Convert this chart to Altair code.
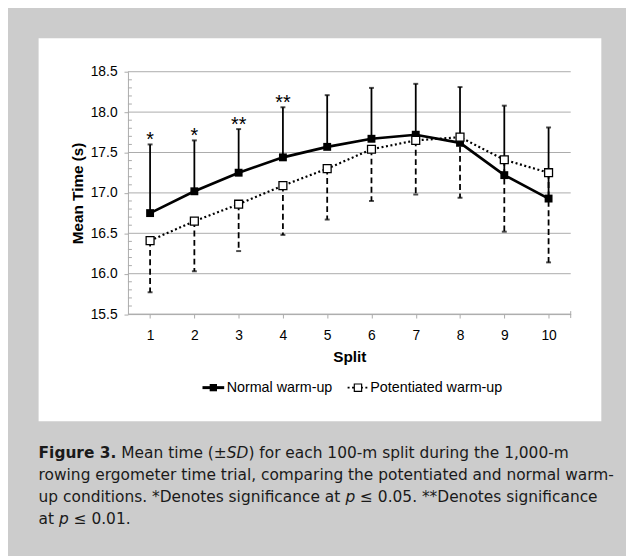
import altair as alt
import pandas as pd

# ---------------- data ----------------
splits = [1, 2, 3, 4, 5, 6, 7, 8, 9, 10]
normal_mean = [16.75, 17.02, 17.25, 17.44, 17.57, 17.67, 17.72, 17.62, 17.22, 16.93]
normal_sd = [0.85, 0.63, 0.54, 0.62, 0.64, 0.63, 0.63, 0.69, 0.86, 0.88]
pot_mean = [16.41, 16.65, 16.86, 17.09, 17.30, 17.54, 17.65, 17.69, 17.41, 17.25]
pot_sd = [0.64, 0.62, 0.58, 0.61, 0.63, 0.64, 0.67, 0.75, 0.89, 1.11]
sig_marks = ["*", "*", "**", "**", "", "", "", "", "", ""]

y_major = [15.5, 16.0, 16.5, 17.0, 17.5, 18.0, 18.5]
y_minor = [15.6, 15.7, 15.8, 15.9, 16.1, 16.2, 16.3, 16.4, 16.6, 16.7, 16.8, 16.9,
           17.1, 17.2, 17.3, 17.4, 17.6, 17.7, 17.8, 17.9, 18.1, 18.2, 18.3, 18.4]

series_names = ["Normal warm-up", "Potentiated warm-up"]
x_title = "Split"
y_title = "Mean Time (s)"
caption_lines = [
    [("Figure 3.", "bold"), (" Mean time (\u00b1", "normal"), ("SD", "italic"),
     (") for each 100-m split during the 1,000-m", "normal")],
    [("rowing ergometer time trial, comparing the potentiated and normal warm-", "normal")],
    [("up conditions. *Denotes significance at ", "normal"), ("p", "italic"),
     (" \u2264 0.05. **Denotes significance", "normal")],
    [("at ", "normal"), ("p", "italic"), (" \u2264 0.01.", "normal")],
]

# ---------------- layout ----------------
PLOT_W, PLOT_H = 448.5, 245.5
PAD_L, PAD_T = 121.5, 61
VIEW_W, VIEW_H = 626, 548


def px(xp):
    return xp - 8 - PAD_L


def py(yp):
    return yp - 8 - PAD_T


FONT = "Liberation Sans"
CAP_FONT = "DejaVu Sans"
CAP_SIZE = 15.6
GRID = "#ababab"

# DejaVu Sans advance widths (units of 2048)
DJ = {" ": 651, "(": 799, ")": 799, "*": 1024, ",": 651, "-": 739, ".": 651,
      "\u00b1": 1716, "\u2264": 1716, "D": 1577, "F": 1178, "M": 1767, "S": 1300,
      "a": 1255, "b": 1300, "c": 1126, "d": 1300, "e": 1260, "f": 721, "g": 1300,
      "h": 1298, "i": 569, "j": 569, "k": 1186, "l": 569, "m": 1995, "n": 1298,
      "o": 1253, "p": 1300, "q": 1300, "r": 842, "s": 1067, "t": 803, "u": 1298,
      "v": 1212, "w": 1675, "x": 1212, "y": 1212, "z": 1075}
DJB = {" ": 713, "F": 1405, "i": 702, "g": 1466, "u": 1458, "r": 1010, "e": 1389,
       "3": 1425, ".": 780}


def tw(s, bold=False):
    tot = 0
    for c in s:
        if bold and c in DJB:
            tot += DJB[c]
        elif c.isdigit():
            tot += 1303
        else:
            tot += DJ.get(c, 1250)
    return tot * CAP_SIZE / 2048


df = pd.DataFrame({"split": splits, "nm": normal_mean, "ns": normal_sd,
                   "pm": pot_mean, "ps": pot_sd, "sig": sig_marks})
df["ntop"] = df["nm"] + df["ns"]
df["pbot"] = df["pm"] - df["ps"]

xs = alt.Scale(domain=[0.5, 10.5], nice=False, zero=False)
ys = alt.Scale(domain=[15.5, 18.5], nice=False, zero=False)

xaxis = alt.Axis(values=splits, format="d", grid=False, tickSize=4, tickColor=GRID,
                 domainColor=GRID, labelFont=FONT, labelFontSize=14, labelColor="#000",
                 labelPadding=11, labelFlush=False, labelOverlap=False,
                 titleFont=FONT, titleFontSize=15.5, titleFontWeight="bold",
                 titleColor="#000", titlePadding=7, zindex=1)
yaxis = alt.Axis(values=y_major, format=".1f", grid=False,
                 tickSize=4, tickColor=GRID, domainColor=GRID, labelFont=FONT,
                 labelFontSize=14, labelColor="#000", labelPadding=7, labelFlush=False,
                 labelOverlap=False, titleFont=FONT, titleFontSize=15.5,
                 titleFontWeight="bold", titleColor="#000", titlePadding=5, zindex=1)


def X():
    return alt.X("split:Q", scale=xs, axis=xaxis, title=x_title)


def Y(f):
    return alt.Y(f"{f}:Q", scale=ys, axis=yaxis, title=y_title)


def dummy():
    return pd.DataFrame({"d": [0]})


layers = []

# white panel
layers.append(alt.Chart(dummy()).mark_rect(color="white").encode(
    x=alt.value(px(39)), x2=alt.value(px(609)), y=alt.value(py(35)), y2=alt.value(py(423))))

# horizontal gridlines
layers.append(alt.Chart(pd.DataFrame({"g": y_major})).mark_rule(color=GRID, strokeWidth=1).encode(
    x=alt.value(0), x2=alt.value(PLOT_W), y=Y("g")))

# minor ticks on y axis (inside)
layers.append(alt.Chart(pd.DataFrame({"v": y_minor})).mark_rule(color=GRID, strokeWidth=1).encode(
    x=alt.value(0), x2=alt.value(4), y=Y("v")))

# end tick on x axis
layers.append(alt.Chart(dummy()).mark_rule(color=GRID, strokeWidth=1).encode(
    x=alt.value(PLOT_W), y=alt.value(PLOT_H - 3), y2=alt.value(PLOT_H + 4)))

base = alt.Chart(df)

# error bars
layers.append(base.mark_rule(color="#000", strokeWidth=1.8).encode(
    x=X(), y=Y("nm"), y2="ntop:Q"))
layers.append(base.mark_tick(orient="horizontal", color="#000", size=5, thickness=2).encode(
    x=X(), y=Y("ntop")))
layers.append(base.mark_rule(color="#000", strokeWidth=1.8, strokeDash=[6, 3.5]).encode(
    x=X(), y=Y("pm"), y2="pbot:Q"))
layers.append(base.mark_tick(orient="horizontal", color="#000", size=5, thickness=2).encode(
    x=X(), y=Y("pbot")))

# lines
layers.append(base.mark_line(color="#000", strokeWidth=2.7).encode(x=X(), y=Y("nm")))
layers.append(base.mark_line(color="#000", strokeWidth=2.2, strokeDash=[2, 2.6]).encode(
    x=X(), y=Y("pm")))

# points
layers.append(base.mark_point(shape="square", filled=True, color="#000", size=64, opacity=1).encode(
    x=X(), y=Y("nm")))
layers.append(base.mark_point(shape="square", fill="white", stroke="#000", strokeWidth=1.3,
                              size=64, opacity=1, fillOpacity=1).encode(x=X(), y=Y("pm")))

# significance markers
layers.append(base.mark_text(font=FONT, fontSize=20, color="#000", align="center",
                             baseline="alphabetic", dy=2).encode(
    x=X(), y=Y("ntop"), text="sig:N"))

# legend (manual)
LY = py(389)
layers.append(alt.Chart(dummy()).mark_rule(color="#000", strokeWidth=3).encode(
    x=alt.value(px(205)), x2=alt.value(px(227)), y=alt.value(LY)))
layers.append(alt.Chart(dummy()).mark_point(shape="square", filled=True, color="#000",
                                            size=55, opacity=1).encode(
    x=alt.value(px(216)), y=alt.value(LY)))
layers.append(alt.Chart(dummy()).mark_text(font=FONT, fontSize=14.5, color="#000",
                                           align="left", baseline="middle").encode(
    x=alt.value(px(229.5)), y=alt.value(LY), text=alt.value(series_names[0])))
layers.append(alt.Chart(dummy()).mark_rule(color="#000", strokeWidth=2, strokeDash=[2, 2.5]).encode(
    x=alt.value(px(352)), x2=alt.value(px(373)), y=alt.value(LY)))
layers.append(alt.Chart(dummy()).mark_point(shape="square", fill="white", stroke="#000",
                                            strokeWidth=1.2, size=55, opacity=1,
                                            fillOpacity=1).encode(
    x=alt.value(px(362.5)), y=alt.value(LY)))
layers.append(alt.Chart(dummy()).mark_text(font=FONT, fontSize=14.5, color="#000",
                                           align="left", baseline="middle").encode(
    x=alt.value(px(375)), y=alt.value(LY), text=alt.value(series_names[1])))

# caption
cap_y = [455, 477.5, 500, 522.5]
for line, yc in zip(caption_lines, cap_y):
    off = 0.0
    for seg, style in line:
        bold = style == "bold"
        lead = len(seg) - len(seg.lstrip(" "))
        trail = len(seg) - len(seg.rstrip(" "))
        off += tw(" ", bold) * lead
        t = seg.strip(" ")
        kw = dict(font=CAP_FONT, fontSize=CAP_SIZE, color="#1a1a1a", align="left",
                  baseline="middle")
        if bold:
            kw["fontWeight"] = "bold"
        if style == "italic":
            kw["fontStyle"] = "italic"
        layers.append(alt.Chart(dummy()).mark_text(**kw).encode(
            x=alt.value(px(39) + off), y=alt.value(py(yc)), text=alt.value(t)))
        off += tw(t, bold) + tw(" ", bold) * trail

chart = alt.layer(*layers).properties(
    width=PLOT_W, height=PLOT_H,
    padding={"left": PAD_L, "top": PAD_T, "right": VIEW_W - PAD_L - PLOT_W,
             "bottom": VIEW_H - PAD_T - PLOT_H},
    autosize=alt.AutoSizeParams(type="none"),
).configure(background="#cccccc").configure_view(stroke=None)

chart.save("out.html", embed_options={"renderer": "svg", "actions": False})
